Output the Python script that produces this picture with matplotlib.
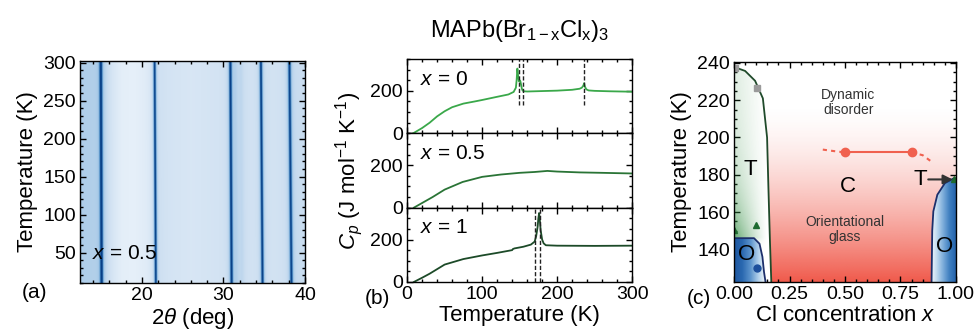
import numpy as np
import matplotlib.pyplot as plt
from matplotlib.colors import LinearSegmentedColormap, to_rgb
from matplotlib.patches import Polygon
from matplotlib.ticker import MultipleLocator, FormatStrFormatter

plt.rcParams['font.family'] = ['Liberation Sans', 'DejaVu Sans']
plt.rcParams['mathtext.fontset'] = 'custom'
plt.rcParams['mathtext.rm'] = 'Liberation Sans'
plt.rcParams['mathtext.it'] = 'Liberation Sans:italic'
plt.rcParams['axes.linewidth'] = 1.0

# ---- (a) temperature-dependent XRD map, x = 0.5
peak_pos_10K = [15.05, 21.7, 31.0, 31.6, 32.3, 34.8, 38.35]
peak_pos_300K = [14.95, 21.55, 30.85, 31.45, 32.15, 34.6, 38.1]
peak_height = [1.0, 1.0, 1.0, 0.12, 0.08, 1.0, 0.85]
peak_width = [0.14, 0.14, 0.14, 0.3, 0.3, 0.14, 0.16]
bg_2theta = [12.4, 13.5, 14.5, 15.5, 16.5, 17.5, 19.0, 20.5, 21.3, 22.5, 24.0,
             26.0, 28.0, 30.0, 32.0, 33.5, 36.0, 37.5, 39.0, 40.0]
bg_level = [0.42, 0.40, 0.36, 0.28, 0.15, 0.06, 0.04, 0.08, 0.12, 0.20, 0.18,
            0.16, 0.18, 0.19, 0.22, 0.19, 0.19, 0.21, 0.25, 0.27]

# ---- (b) heat capacity
T_x0 = [8, 20, 30, 40, 50, 60, 75, 90, 100, 120, 135, 142, 145, 146, 147, 148, 149,
        150, 151, 152, 153, 154, 156, 160, 180, 200, 220, 230, 233, 235, 236, 237,
        239, 242, 250, 270, 300]
Cp_x0 = [0, 25, 50, 80, 104, 123, 140, 150, 157, 172, 183, 195, 215, 250, 305, 270,
         245, 250, 245, 228, 210, 201, 198, 197, 199, 201, 205, 210, 215, 225, 236,
         220, 207, 202, 200, 198, 196]
T_x05 = [9, 20, 34, 50, 74, 100, 125, 150, 170, 187, 200, 230, 260, 300]
Cp_x05 = [0, 22, 50, 85, 121, 145, 156, 164, 168, 173, 170, 166, 164, 161]
T_x1 = [9, 20, 30, 50, 75, 100, 120, 140, 141, 143, 155, 165, 170, 172, 174, 175,
        176, 177, 178, 180, 182, 185, 200, 250, 300]
Cp_x1 = [0, 20, 39, 82, 108, 125, 137, 150, 155, 158, 166, 176, 190, 215, 260, 300,
         325, 290, 244, 200, 182, 173, 171, 170, 171]
trans_x0 = [148.5, 154, 236]
trans_x1 = [171, 177]

# ---- (c) phase diagram
tphase_x = [0.0, 0.012, 0.05, 0.095, 0.13, 0.149, 0.155, 0.162, 0.168]
tphase_T = [237.5, 237.3, 235.7, 230.4, 221, 200, 173, 144, 122.5]
oleft_x = [0.0, 0.09, 0.115, 0.128, 0.135, 0.142]
oleft_T = [146, 146, 143, 136, 128, 122.5]
oright_x = [0.89, 0.893, 0.898, 0.916, 0.95, 0.988, 1.0]
oright_T = [122.5, 150, 160.4, 169.3, 175.5, 178, 178]
sq_x, sq_T = [0.005, 0.102], [237.5, 226.5]
tri_x, tri_T = [0.0, 0.098, 0.99], [150.5, 153.3, 177.5]
dot_x, dot_T = [0.102], [130]
glass_x, glass_T = [0.5, 0.8], [192, 192]
glass_lo_x, glass_lo_T = [0.40, 0.45, 0.5], [193.5, 192.7, 192]
glass_hi_x, glass_hi_T = [0.8, 0.85, 0.89], [192, 190.5, 187]


def style_ticks(ax):
    ax.tick_params(which='both', direction='in', top=True, right=True,
                   labelsize=14, pad=3, width=1)
    ax.tick_params(which='major', length=4)
    ax.tick_params(which='minor', length=2)


fig = plt.figure(figsize=(9.74, 3.3), dpi=100)

# (a)
ax_a = fig.add_axes([0.0821, 0.1424, 0.2310, 0.6726])
tth = np.linspace(12.4, 40, 1400)
temps = np.linspace(10, 302, 220)
frac = (temps - 10) / 290.0
inten = np.tile(np.interp(tth, bg_2theta, bg_level), (len(temps), 1))
for p0, p1, h, w in zip(peak_pos_10K, peak_pos_300K, peak_height, peak_width):
    pos = p0 + (p1 - p0) * frac[:, None]
    inten += h / (1 + ((tth[None, :] - pos) / w) ** 2)
cmap_a = LinearSegmentedColormap.from_list(
    'xrd', ['#ebf3fb', '#cddff1', '#a0c5e5', '#3b82c0', '#083f86'])
ax_a.imshow(np.clip(inten, 0, 1), extent=[12.4, 40, 10, 302], origin='lower',
            aspect='auto', cmap=cmap_a, vmin=0, vmax=1, interpolation='bilinear')
ax_a.set_xlim(12.4, 40)
ax_a.set_ylim(10, 302)
ax_a.set_xticks([20, 30, 40])
ax_a.set_yticks([50, 100, 150, 200, 250, 300])
ax_a.xaxis.set_minor_locator(MultipleLocator(2))
ax_a.yaxis.set_minor_locator(MultipleLocator(10))
style_ticks(ax_a)
ax_a.set_xlabel(r'2$\theta$ (deg)', fontsize=16, labelpad=1)
ax_a.set_ylabel('Temperature (K)', fontsize=16, labelpad=4)
ax_a.text(13.9, 49, r'$x$ = 0.5', fontsize=15, va='center', ha='left')

# (b)
b_left, b_w = 0.418, 0.231
b_bottom, b_top = 0.1455, 0.8212
b_h = (b_top - b_bottom) / 3
curves = [(T_x0, Cp_x0, '#3aa84a', '0'), (T_x05, Cp_x05, '#2a7436', '0.5'),
          (T_x1, Cp_x1, '#1c4a28', '1')]
axes_b = []
for i, (T, Cp, col, lab) in enumerate(curves):
    ax = fig.add_axes([b_left, b_top - (i + 1) * b_h, b_w, b_h])
    ax.plot(T, Cp, color=col, lw=1.3)
    ax.set_xlim(0, 300)
    ax.set_ylim(0, 350)
    ax.set_yticks([0, 200])
    ax.set_xticks([0, 100, 200, 300])
    ax.xaxis.set_minor_locator(MultipleLocator(20))
    ax.yaxis.set_minor_locator(MultipleLocator(50))
    style_ticks(ax)
    if i < 2:
        ax.tick_params(labelbottom=False)
    ax.text(17, 255, r'$x$ = ' + lab, fontsize=15, va='center', ha='left')
    axes_b.append(ax)
for t in trans_x0:
    axes_b[0].axvline(t, ymin=0.38, ymax=1, color='#222222', lw=1, ls=(0, (3, 1.5)))
for t in trans_x1:
    axes_b[2].axvline(t, color='#222222', lw=1, ls=(0, (3, 1.5)))
axes_b[1].set_ylabel(r'$C_p$ (J mol$^{-1}$ K$^{-1}$)', fontsize=16, labelpad=4)
axes_b[2].set_xlabel('Temperature (K)', fontsize=16, labelpad=1)

# (c)
ax_c = fig.add_axes([0.7536, 0.1455, 0.2279, 0.6667])
ylo, yhi = 122.5, 240.5
ax_c.set_xlim(0, 1)
ax_c.set_ylim(ylo, yhi)

# red glass shading growing towards low temperature
tt = np.linspace(ylo, yhi, 300)
red = np.zeros((300, 2, 4))
red[..., :3] = to_rgb('#ef4a3a')
red[..., 3] = (np.clip((218 - tt) / 96, 0, 1) ** 1.6 * 0.92)[:, None]
ax_c.imshow(red, extent=[0, 1, ylo, yhi], origin='lower', aspect='auto',
            interpolation='bilinear', zorder=0)

# tetragonal region at low x
t_verts = [(0, ylo)] + list(zip(tphase_x, tphase_T)) + [(tphase_x[-1], ylo)]
ax_c.add_patch(Polygon(t_verts, closed=True, facecolor='white', edgecolor='none',
                       zorder=1))
gx = np.linspace(0, 0.17, 120)
gT = np.linspace(ylo, yhi, 240)
gT_w = np.where(gT >= 146, 0.14 + 0.6 * np.exp(-(gT - 146) / 24),
                0.7 * np.exp(-(146 - gT) / 3))
gx_w = np.clip(1 - gx / 0.15, 0, 1) ** 1.2
green = np.zeros((240, 120, 4))
green[..., :3] = to_rgb('#2e8b3e')
green[..., 3] = gT_w[:, None] * gx_w[None, :]
im_g = ax_c.imshow(green, extent=[0, 0.17, ylo, yhi], origin='lower',
                   aspect='auto', interpolation='bilinear', zorder=2)
im_g.set_clip_path(Polygon(t_verts, closed=True, transform=ax_c.transData))

# orthorhombic regions
ol_verts = [(0, ylo)] + list(zip(oleft_x, oleft_T))
or_verts = list(zip(oright_x, oright_T)) + [(1.0, ylo)]
cmap_ol = LinearSegmentedColormap.from_list(
    'ol', ['#1d56a0', '#2a68b0', '#5b93cc', '#b4d2ec', '#ffffff'])
cmap_or = LinearSegmentedColormap.from_list(
    'or', ['#ffffff', '#c2dbf0', '#7eaedb', '#3f7fc0', '#2463ab'])
ramp = np.linspace(0, 1, 200)[None, :].repeat(2, axis=0)
im_ol = ax_c.imshow(ramp, extent=[0, 0.145, ylo, 147], origin='lower',
                    aspect='auto', cmap=cmap_ol, zorder=3)
im_ol.set_clip_path(Polygon(ol_verts, closed=True, transform=ax_c.transData))
im_or = ax_c.imshow(ramp, extent=[0.885, 1.0, ylo, 179], origin='lower',
                    aspect='auto', cmap=cmap_or, zorder=3)
im_or.set_clip_path(Polygon(or_verts, closed=True, transform=ax_c.transData))

ax_c.plot(tphase_x, tphase_T, color='#1f4a2a', lw=1.3, zorder=4)
ax_c.plot(oleft_x, oleft_T, color='#1c2f6b', lw=1.3, zorder=4)
ax_c.plot(oright_x, oright_T, color='#1c2f6b', lw=1.3, zorder=4)

ax_c.plot(sq_x, sq_T, 's', color='#9a9a9a', ms=5, zorder=5)
ax_c.plot(tri_x, tri_T, '^', color='#1e6b30', ms=5, zorder=5)
ax_c.plot(dot_x, dot_T, 'o', color='#1d4f9c', ms=5, zorder=5)

ax_c.plot(glass_x, glass_T, '-o', color='#f0614f', lw=1.5, ms=6, zorder=5)
ax_c.plot(glass_lo_x, glass_lo_T, color='#f0614f', lw=1.5, ls=(0, (2, 2)), zorder=5)
ax_c.plot(glass_hi_x, glass_hi_T, color='#f0614f', lw=1.5, ls=(0, (2, 2)), zorder=5)

ax_c.text(0.515, 219, 'Dynamic\ndisorder', fontsize=10, color='#333333',
          ha='center', va='center', linespacing=1.1, zorder=6)
ax_c.text(0.5, 150.5, 'Orientational\nglass', fontsize=10, color='#333333',
          ha='center', va='center', linespacing=1.1, zorder=6)
ax_c.text(0.072, 183, 'T', fontsize=16, ha='center', va='center', zorder=6)
ax_c.text(0.515, 173.5, 'C', fontsize=16, ha='center', va='center', zorder=6)
ax_c.text(0.057, 137, 'O', fontsize=16, ha='center', va='center', zorder=6)
ax_c.text(0.95, 141.5, 'O', fontsize=16, ha='center', va='center', zorder=6)
ax_c.text(0.84, 177.5, 'T', fontsize=16, ha='center', va='center', zorder=6)
ax_c.annotate('', xy=(0.985, 177.5), xytext=(0.875, 177.5), zorder=6,
              arrowprops=dict(arrowstyle='-|>', color='#333333', lw=1.5,
                              shrinkA=0, shrinkB=0, mutation_scale=14))

ax_c.set_xticks([0, 0.25, 0.5, 0.75, 1.0])
ax_c.xaxis.set_major_formatter(FormatStrFormatter('%.2f'))
ax_c.set_yticks([140, 160, 180, 200, 220, 240])
ax_c.xaxis.set_minor_locator(MultipleLocator(0.05))
ax_c.yaxis.set_minor_locator(MultipleLocator(5))
style_ticks(ax_c)
for sp in ax_c.spines.values():
    sp.set_zorder(7)
ax_c.set_xlabel(r'Cl concentration $x$', fontsize=16, labelpad=1)
ax_c.set_ylabel('Temperature (K)', fontsize=16, labelpad=4)

# panel letters and title
fig.text(0.035, 0.115, '(a)', fontsize=15, ha='center', va='center')
fig.text(0.387, 0.095, '(b)', fontsize=15, ha='center', va='center')
fig.text(0.718, 0.095, '(c)', fontsize=15, ha='center', va='center')
fig.text(0.534, 0.905, r'MAPb(Br$_{\mathrm{1-x}}$Cl$_{\mathrm{x}}$)$_{\mathrm{3}}$',
         fontsize=17, ha='center', va='center')

fig.savefig('out.png', dpi=100)
